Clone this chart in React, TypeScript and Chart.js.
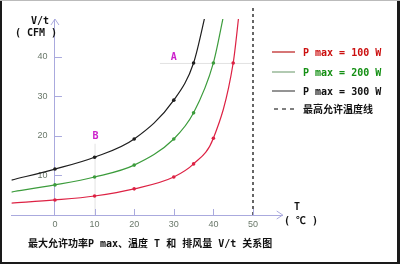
import React, { useEffect, useRef } from 'react';
import { Chart, registerables } from 'chart.js';

Chart.register(...registerables);

// ---- data (temperature T in °C, air flow V/t in CFM) ----
const temps100 = [-11, 0, 10, 20, 30, 35, 40, 45, 46.6];
const vt100 = [3.0, 3.8, 4.8, 6.6, 9.6, 12.9, 19.4, 38.4, 52];
const temps200 = [-11, 0, 10, 20, 30, 35, 40, 42.9];
const vt200 = [5.8, 7.6, 9.6, 12.6, 19.2, 25.8, 38.4, 52];
const temps300 = [-11, 0, 10, 20, 30, 35, 38.3];
const vt300 = [8.8, 11.6, 14.6, 19.2, 29.0, 38.4, 52];

const xTickValues = [0, 10, 20, 30, 40, 50];
const yTickValues = [10, 20, 30, 40];

const seriesLabels = ['P max = 100 W', 'P max = 200 W', 'P max = 300 W'];
const limitLabel = '最高允许温度线';
const maxTemp = 50;
const pointA = { label: 'A', x: 30, y: 40, level: 38.4, from: 26.5 };
const pointB = { label: 'B', x: 10, y: 20, top: 18 };
const yTitle1 = 'V/t';
const yTitle2 = '( CFM )';
const xTitle1 = 'T';
const xTitle2 = '( ℃ )';
const chartTitle = '最大允许功率P max、温度 T 和 排风量 V/t 关系图';

const lineColors = ['#dd2244', '#3c9c3c', '#1e1e1e'];
const legendLineColors = ['#c84848', '#98b898', '#707070'];
const legendTextColors = ['#cc1010', '#149014', '#111111'];
const axisColor = '#aaaade';

const MONO = "'DejaVu Sans Mono', 'Noto Sans CJK SC', monospace";

function pts(xs: number[], ys: number[]) {
  return xs.map((x, i) => ({ x, y: ys[i] }));
}
function radii(n: number) {
  return Array.from({ length: n }, (_, i) => (i === 0 || i === n - 1 ? 0 : 1.8));
}

const decorPlugin = {
  id: 'decor',
  beforeDatasetsDraw(chart: any) {
    const { ctx, scales } = chart;
    const xs = scales.x, ys = scales.y;
    ctx.save();
    ctx.strokeStyle = '#e2e2e2';
    ctx.lineWidth = 1;
    ctx.beginPath();
    ctx.moveTo(xs.getPixelForValue(pointA.from), ys.getPixelForValue(pointA.level) + 0.5);
    ctx.lineTo(xs.getPixelForValue(maxTemp), ys.getPixelForValue(pointA.level) + 0.5);
    ctx.stroke();
    ctx.beginPath();
    ctx.moveTo(xs.getPixelForValue(pointB.x) + 0.5, ys.getPixelForValue(0));
    ctx.lineTo(xs.getPixelForValue(pointB.x) + 0.5, ys.getPixelForValue(pointB.top));
    ctx.stroke();
    ctx.restore();
  },
  afterDraw(chart: any) {
    const { ctx, scales, chartArea } = chart;
    const xs = scales.x, ys = scales.y;
    const x0 = xs.getPixelForValue(0);
    const y0 = ys.getPixelForValue(0);
    ctx.save();

    // limit temperature dashed line
    ctx.strokeStyle = '#333333';
    ctx.lineWidth = 1.5;
    ctx.setLineDash([3, 3]);
    ctx.beginPath();
    const xl = Math.round(xs.getPixelForValue(maxTemp));
    ctx.moveTo(xl, y0);
    ctx.lineTo(xl, 8);
    ctx.stroke();
    ctx.setLineDash([]);

    // tick marks (inside)
    ctx.strokeStyle = axisColor;
    ctx.lineWidth = 1;
    ctx.beginPath();
    yTickValues.forEach((v) => {
      const py = Math.round(ys.getPixelForValue(v)) + 0.5;
      ctx.moveTo(x0, py);
      ctx.lineTo(x0 + 7, py);
    });
    xTickValues.forEach((v) => {
      if (v === 0) return;
      const px = Math.round(xs.getPixelForValue(v)) + 0.5;
      ctx.moveTo(px, y0);
      ctx.lineTo(px, y0 - 6);
    });
    ctx.stroke();

    // arrows
    ctx.beginPath();
    ctx.moveTo(chartArea.right - 6, y0 - 4);
    ctx.lineTo(chartArea.right, y0);
    ctx.lineTo(chartArea.right - 6, y0 + 4);
    ctx.moveTo(x0 - 4, chartArea.top + 6);
    ctx.lineTo(x0, chartArea.top);
    ctx.lineTo(x0 + 4, chartArea.top + 6);
    ctx.stroke();

    // axis titles
    ctx.fillStyle = '#111111';
    ctx.font = `bold 10px ${MONO}`;
    ctx.textBaseline = 'middle';
    ctx.textAlign = 'center';
    ctx.fillText(yTitle1, 40, 21);
    ctx.fillText(yTitle2, 36, 33);
    ctx.fillText(xTitle1, 297, 207);
    ctx.fillText(xTitle2, 301, 221);

    // A / B labels
    ctx.fillStyle = '#cc22cc';
    ctx.font = `bold 10px ${MONO}`;
    ctx.fillText(pointA.label, xs.getPixelForValue(pointA.x), ys.getPixelForValue(pointA.y) + 1);
    ctx.fillText(pointB.label, xs.getPixelForValue(pointB.x) + 1, ys.getPixelForValue(pointB.y) + 1);

    // legend
    const legY = [52, 72, 91];
    ctx.textAlign = 'left';
    seriesLabels.forEach((lab, i) => {
      ctx.strokeStyle = legendLineColors[i];
      ctx.lineWidth = 1.5;
      ctx.beginPath();
      ctx.moveTo(272, legY[i]);
      ctx.lineTo(295, legY[i]);
      ctx.stroke();
      ctx.fillStyle = legendTextColors[i];
      ctx.fillText(lab, 303, legY[i] + 1);
    });
    ctx.strokeStyle = '#555555';
    ctx.lineWidth = 1.5;
    ctx.setLineDash([4, 4]);
    ctx.beginPath();
    ctx.moveTo(274, 109);
    ctx.lineTo(296, 109);
    ctx.stroke();
    ctx.setLineDash([]);
    ctx.fillStyle = '#111111';
    ctx.fillText(limitLabel, 303, 110);

    // title
    ctx.fillText(chartTitle, 28, 244);

    // frame
    ctx.fillStyle = '#1a1a1a';
    ctx.fillRect(0, 0, 2, 264);
    ctx.fillRect(397, 0, 3, 264);
    ctx.fillRect(0, 262, 400, 2);
    ctx.fillStyle = '#bbbbbb';
    ctx.fillRect(0, 0, 400, 1);
    ctx.restore();
  },
};

export default function App() {
  const ref = useRef<HTMLCanvasElement | null>(null);
  useEffect(() => {
    if (!ref.current) return;
    const makeDs = (label: string, xs: number[], ys: number[], color: string) => ({
      label,
      data: pts(xs, ys),
      borderColor: color,
      backgroundColor: color,
      borderWidth: 1.2,
      pointRadius: radii(xs.length),
      pointBorderWidth: 0,
      cubicInterpolationMode: 'monotone' as const,
      fill: false,
    });
    const chart = new Chart(ref.current, {
      type: 'line',
      data: {
        datasets: [
          makeDs(seriesLabels[0], temps100, vt100, lineColors[0]),
          makeDs(seriesLabels[1], temps200, vt200, lineColors[1]),
          makeDs(seriesLabels[2], temps300, vt300, lineColors[2]),
        ],
      },
      options: {
        responsive: false,
        animation: false,
        devicePixelRatio: 1,
        layout: { padding: { left: 11.4, right: 117.3, top: 19, bottom: 49 } },
        plugins: { legend: { display: false }, tooltip: { enabled: false }, title: { display: false } },
        scales: {
          x: {
            type: 'linear',
            min: -11,
            max: 57.5,
            position: { y: 0 } as any,
            grid: { display: false, drawTicks: false },
            border: { display: true, color: axisColor, width: 1 },
            afterBuildTicks: (s: any) => { s.ticks = xTickValues.map((v) => ({ value: v })); },
            afterFit: (s: any) => { s.height = 0; },
            ticks: {
              padding: 4,
              color: '#6a786a',
              font: { family: "'Liberation Sans', Arial, sans-serif", size: 9 },
              maxRotation: 0,
              autoSkip: false,
            },
          },
          y: {
            type: 'linear',
            min: 0,
            max: 49.5,
            position: { x: 0 } as any,
            grid: { display: false, drawTicks: false },
            border: { display: true, color: axisColor, width: 1 },
            afterBuildTicks: (s: any) => { s.ticks = yTickValues.map((v) => ({ value: v })); },
            afterFit: (s: any) => { s.width = 0; },
            ticks: {
              padding: 6,
              color: '#6a786a',
              font: { family: "'Liberation Sans', Arial, sans-serif", size: 9 },
              autoSkip: false,
              callback: (v: any) => String(v) + '\u00a0\u00a0\u00a0',
            },
          },
        },
      },
      plugins: [decorPlugin],
    });
    return () => chart.destroy();
  }, []);
  return (
    <div style={{ position: 'fixed', left: 0, top: 0, width: 400, height: 264, background: '#fff' }}>
      <canvas ref={ref} width={400} height={264} style={{ display: 'block', width: 400, height: 264 }} />
    </div>
  );
}
